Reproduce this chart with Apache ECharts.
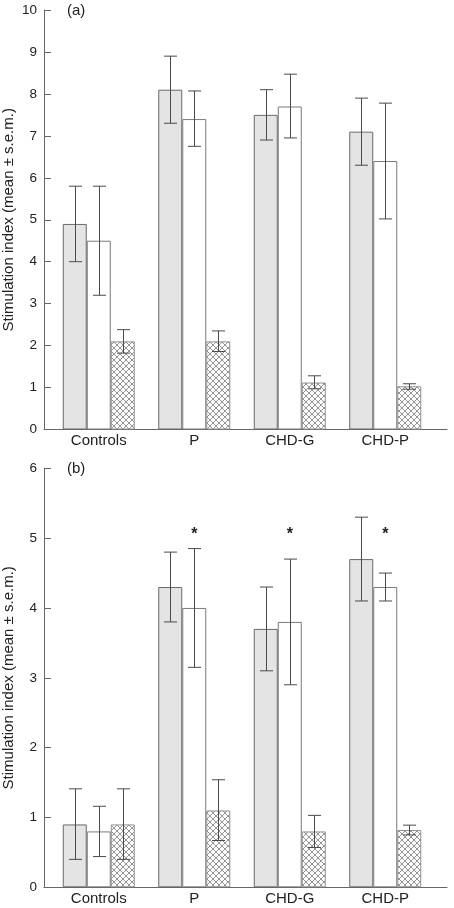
<!DOCTYPE html>
<html>
<head>
<meta charset="utf-8">
<script src="https://cdn.jsdelivr.net/npm/echarts@6/dist/echarts.min.js"></script>
<style>html,body{margin:0;padding:0;background:#fff}#c{width:454px;height:908px}</style>
</head>
<body>
<div id="c"></div>
<script>
// ---- data ----
const categories = ['Controls', 'P', 'CHD-G', 'CHD-P'];

// Panel (a)
const aMean1 = [4.9, 8.1, 7.5, 7.1];
const aLow1  = [4.0, 7.3, 6.9, 6.3];
const aHigh1 = [5.8, 8.9, 8.1, 7.9];
const aMean2 = [4.5, 7.4, 7.7, 6.4];
const aLow2  = [3.2, 6.75, 6.95, 5.02];
const aHigh2 = [5.8, 8.07, 8.47, 7.78];
const aMean3 = [2.1, 2.1, 1.12, 1.03];
const aLow3  = [1.82, 1.86, 0.97, 0.96];
const aHigh3 = [2.38, 2.35, 1.28, 1.09];
const aTicks = [0, 1, 2, 3, 4, 5, 6, 7, 8, 9, 10];

// Panel (b)
const bMean1 = [0.9, 4.3, 3.7, 4.7];
const bLow1  = [0.4, 3.8, 3.1, 4.1];
const bHigh1 = [1.41, 4.8, 4.3, 5.3];
const bMean2 = [0.8, 4.0, 3.8, 4.3];
const bLow2  = [0.44, 3.15, 2.9, 4.1];
const bHigh2 = [1.16, 4.85, 4.7, 4.5];
const bMean3 = [0.9, 1.1, 0.8, 0.82];
const bLow3  = [0.4, 0.67, 0.57, 0.75];
const bHigh3 = [1.41, 1.54, 1.03, 0.89];
const bTicks = [0, 1, 2, 3, 4, 5, 6];
// significance asterisks (panel b, second bar)
const bSigCats = [1, 2, 3];
const bSigY = [5.05, 5.05, 5.05];

const yName = 'Stimulation index (mean \u00b1 s.e.m.)';

// ---- styling ----
const FONT = '"Liberation Sans", Arial, sans-serif';
const BARW = 24;
const AXC = '#666';

function hatchCanvas() {
  const s = 6;
  const c = document.createElement('canvas');
  c.width = s; c.height = s;
  const g = c.getContext('2d');
  g.fillStyle = '#ffffff'; g.fillRect(0, 0, s, s);
  g.strokeStyle = '#7a7a7a'; g.lineWidth = 0.8;
  g.beginPath();
  g.moveTo(0, 0); g.lineTo(s, s);
  g.moveTo(s, 0); g.lineTo(0, s);
  g.stroke();
  return c;
}
const hatch = { image: hatchCanvas(), repeat: 'repeat' };

const panels = [
  { top: 10, height: 419.5, max: 10, ticks: aTicks, label: '(a)',
    means: [aMean1, aMean2, aMean3], lows: [aLow1, aLow2, aLow3], highs: [aHigh1, aHigh2, aHigh3],
    sigCats: [], sigY: [] },
  { top: 468.3, height: 419, max: 6, ticks: bTicks, label: '(b)',
    means: [bMean1, bMean2, bMean3], lows: [bLow1, bLow2, bLow3], highs: [bHigh1, bHigh2, bHigh3],
    sigCats: bSigCats, sigY: bSigY }
];

const grid = [], xAxis = [], yAxis = [], series = [], title = [];
const barStyles = [
  { color: '#e4e4e4', borderColor: '#6a6a6a', borderWidth: 1 },
  { color: '#ffffff', borderColor: '#7a7a7a', borderWidth: 1 },
  { color: hatch, borderColor: '#909090', borderWidth: 1 }
];

panels.forEach((p, pi) => {
  const gAxis = grid.length;
  grid.push({ left: 44, width: 403, top: p.top, height: p.height, containLabel: false, outerBoundsMode: 'none' });
  grid.push({ left: 51, width: 382, top: p.top, height: p.height, containLabel: false, outerBoundsMode: 'none' });
  const gBar = gAxis + 1;

  xAxis.push({ gridIndex: gAxis, type: 'value', min: 0, max: 1,
    axisLine: { show: true, onZero: false, lineStyle: { color: AXC, width: 1 } },
    axisTick: { show: false }, axisLabel: { show: false }, splitLine: { show: false } });
  yAxis.push({ gridIndex: gAxis, type: 'value', min: 0, max: p.max, interval: 1,
    name: yName, nameLocation: 'middle', nameGap: 28, nameMoveOverlap: false,
    nameTextStyle: { fontFamily: FONT, fontSize: 15, color: '#222' },
    axisLine: { show: true, onZero: false, lineStyle: { color: AXC, width: 1 } },
    axisTick: { show: true, inside: true, length: 7, lineStyle: { color: AXC } },
    axisLabel: { fontFamily: FONT, fontSize: 13.5, color: '#222', margin: 7,
      formatter: v => (p.ticks.indexOf(v) >= 0 ? String(v) : '') },
    splitLine: { show: false } });

  const xb = xAxis.length;
  xAxis.push({ gridIndex: gBar, type: 'category', data: categories,
    axisLine: { show: false }, axisTick: { show: false },
    axisLabel: { fontFamily: FONT, fontSize: 15, color: '#222', margin: 4 } });
  const yb = yAxis.length;
  yAxis.push({ gridIndex: gBar, type: 'value', min: 0, max: p.max, show: false });

  p.means.forEach((m, si) => {
    series.push({ type: 'bar', xAxisIndex: xb, yAxisIndex: yb, data: m,
      barWidth: BARW, barGap: '0%', itemStyle: barStyles[si], silent: true, z: 2 });
  });

  const errData = [];
  p.means.forEach((m, si) => {
    m.forEach((v, ci) => errData.push([ci, p.lows[si][ci], p.highs[si][ci], si]));
  });
  series.push({ type: 'custom', xAxisIndex: xb, yAxisIndex: yb, data: errData, z: 5, silent: true,
    encode: { x: 0, y: [1, 2] },
    renderItem: (params, api) => {
      const ci = api.value(0), si = api.value(3);
      const lo = api.coord([ci, api.value(1)]);
      const hi = api.coord([ci, api.value(2)]);
      const x = Math.round(lo[0] + (si - 1) * BARW) + 0.5;
      const cap = 6.5;
      const st = { stroke: '#4a4a4a', lineWidth: 1 };
      return { type: 'group', children: [
        { type: 'line', shape: { x1: x, y1: hi[1], x2: x, y2: lo[1] }, style: st },
        { type: 'line', shape: { x1: x - cap, y1: hi[1], x2: x + cap, y2: hi[1] }, style: st },
        { type: 'line', shape: { x1: x - cap, y1: lo[1], x2: x + cap, y2: lo[1] }, style: st }
      ]};
    } });

  if (p.sigCats.length) {
    const sd = p.sigCats.map((c, i) => [c, p.sigY[i]]);
    series.push({ type: 'custom', xAxisIndex: xb, yAxisIndex: yb, data: sd, z: 6, silent: true,
      renderItem: (params, api) => {
        const pt = api.coord([api.value(0), api.value(1)]);
        return { type: 'text', x: pt[0], y: pt[1],
          style: { text: '*', fontFamily: FONT, fontSize: 16, fontWeight: 'bold', fill: '#222',
            align: 'center', verticalAlign: 'middle' } };
      } });
  }

  title.push({ text: p.label, left: 67, top: p.top - 7, padding: 0,
    textStyle: { fontFamily: FONT, fontSize: 15, fontWeight: 'normal', color: '#222' } });
});

const chart = echarts.init(document.getElementById('c'), null, { renderer: 'canvas' });
chart.setOption({ animation: false, backgroundColor: '#fff', title, grid, xAxis, yAxis, series });
</script>
</body>
</html>
